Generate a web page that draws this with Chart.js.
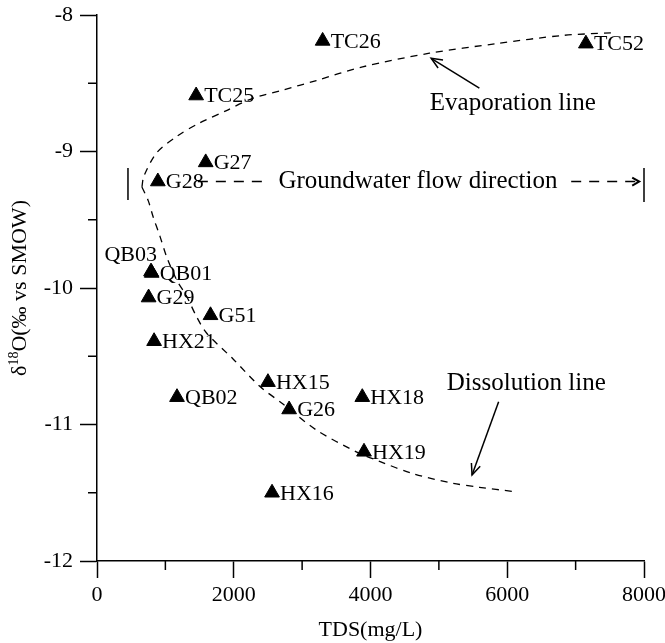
<!DOCTYPE html>
<html>
<head>
<meta charset="utf-8">
<script src="https://cdn.jsdelivr.net/npm/chart.js@4.4.1/dist/chart.umd.min.js"></script>
<style>
    html, body { margin: 0; padding: 0; background: #fff; }
</style>
</head>
<body>
<canvas id="scatterChart" width="665" height="643"></canvas>
<script>
// Samples: TDS (mg/L) and d18O (permil vs SMOW)
var sampleNames = ['TC26', 'TC52', 'TC25', 'G27', 'G28', 'QB03', 'QB01', 'G29', 'G51', 'HX21', 'QB02', 'HX15', 'G26', 'HX18', 'HX19', 'HX16'];
var tdsValues   = [3300, 7150, 1450, 1590, 890, 790, 800, 755, 1660, 835, 1170, 2500, 2810, 3880, 3905, 2560];
var d18OValues  = [-8.19, -8.21, -8.59, -9.08, -9.22, -9.88, -9.89, -10.07, -10.20, -10.39, -10.80, -10.69, -10.89, -10.80, -11.20, -11.50];

// Evaporation line
var evapTDS  = [657, 686, 872, 1164, 1504, 1894, 2278, 2716, 3208, 3884, 4862, 5836, 6804, 7530];
var evapD18O = [-9.26, -9.18, -9.01, -8.89, -8.79, -8.70, -8.61, -8.55, -8.48, -8.38, -8.28, -8.21, -8.15, -8.13];

// Dissolution line
var dissTDS  = [657, 749, 822, 920, 1018, 1164, 1310, 1456, 1602, 1990, 2380, 2720, 3208, 3792, 4132, 4618, 5202, 5592, 6078];
var dissD18O = [-9.26, -9.36, -9.48, -9.62, -9.77, -9.94, -10.06, -10.21, -10.33, -10.52, -10.72, -10.85, -11.04, -11.20, -11.27, -11.36, -11.43, -11.46, -11.49];

// Minor ticks (major ones come from the scales)
var xMinorTicks = [1000, 3000, 5000, 7000];
var yMinorTicks = [-8.5, -9.5, -10.5, -11.5];

var FONT = "'Liberation Serif', 'Times New Roman', serif";

function toPoints(xs, ys) {
    return xs.map(function (x, i) { return { x: x, y: ys[i] }; });
}

function drawArrow(ctx, x1, y1, x2, y2, head) {
    var ang = Math.atan2(y2 - y1, x2 - x1);
    ctx.beginPath();
    ctx.moveTo(x1, y1);
    ctx.lineTo(x2, y2);
    ctx.stroke();
    ctx.beginPath();
    ctx.moveTo(x2 - head * Math.cos(ang - 0.4), y2 - head * Math.sin(ang - 0.4));
    ctx.lineTo(x2, y2);
    ctx.lineTo(x2 - head * Math.cos(ang + 0.4), y2 - head * Math.sin(ang + 0.4));
    ctx.stroke();
}

// minor ticks, y axis title, sample labels and the notes on the plot
var extrasPlugin = {
    id: 'extras',
    afterDraw: function (chart) {
        var ctx = chart.ctx;
        var xs = chart.scales.x, ys = chart.scales.y;
        var area = chart.chartArea;
        function X(v) { return xs.getPixelForValue(v); }
        function Y(v) { return ys.getPixelForValue(v); }

        ctx.save();
        ctx.strokeStyle = '#000';
        ctx.fillStyle = '#000';

        // minor ticks
        ctx.lineWidth = 1.5;
        xMinorTicks.forEach(function (v) {
            ctx.beginPath();
            ctx.moveTo(X(v), area.bottom);
            ctx.lineTo(X(v), area.bottom + 9);
            ctx.stroke();
        });
        yMinorTicks.forEach(function (v) {
            ctx.beginPath();
            ctx.moveTo(area.left - 9, Y(v));
            ctx.lineTo(area.left, Y(v));
            ctx.stroke();
        });

        // y axis title with superscript
        ctx.save();
        ctx.translate(19, (area.top + area.bottom) / 2);
        ctx.rotate(-Math.PI / 2);
        ctx.textBaseline = 'alphabetic';
        ctx.textAlign = 'left';
        var big = '22px ' + FONT, small = '14px ' + FONT;
        ctx.font = big;
        var w1 = ctx.measureText('\u03b4').width;
        var w3 = ctx.measureText('O(\u2030 vs SMOW)').width;
        ctx.font = small;
        var w2 = ctx.measureText('18').width;
        var sx = -(w1 + w2 + w3) / 2;
        ctx.font = big;
        ctx.fillText('\u03b4', sx, 7);
        ctx.font = small;
        ctx.fillText('18', sx + w1, -1);
        ctx.font = big;
        ctx.fillText('O(\u2030 vs SMOW)', sx + w1 + w2, 7);
        ctx.restore();

        // sample labels
        ctx.font = '22px ' + FONT;
        ctx.textBaseline = 'middle';
        var meta = chart.getDatasetMeta(2);
        meta.data.forEach(function (pt, i) {
            var name = sampleNames[i];
            if (name === 'QB03') {
                ctx.textAlign = 'right';
                ctx.fillText(name, pt.x + 6, pt.y - 16);
            } else {
                ctx.textAlign = 'left';
                ctx.fillText(name, pt.x + 8, pt.y + 1);
            }
        });

        // notes
        ctx.font = '25px ' + FONT;
        ctx.textAlign = 'center';
        ctx.fillText('Evaporation line', X(6081), Y(-8.65));
        ctx.fillText('Dissolution line', X(6278), Y(-10.70));
        ctx.fillText('Groundwater flow direction', X(4694), Y(-9.22));

        ctx.lineWidth = 1.5;
        drawArrow(ctx, X(5592), Y(-8.535), X(4887), Y(-8.317), 12);
        drawArrow(ctx, X(5874), Y(-10.833), X(5485), Y(-11.37), 12);

        // groundwater flow direction marker
        ctx.lineWidth = 1.5;
        ctx.beginPath();
        ctx.moveTo(X(453), Y(-9.12));
        ctx.lineTo(X(453), Y(-9.355));
        ctx.moveTo(X(8000), Y(-9.12));
        ctx.lineTo(X(8000), Y(-9.37));
        ctx.stroke();
        ctx.setLineDash([10, 8]);
        ctx.beginPath();
        ctx.moveTo(X(1475), Y(-9.22));
        ctx.lineTo(X(2526), Y(-9.22));
        ctx.moveTo(X(6935), Y(-9.22));
        ctx.lineTo(X(7930), Y(-9.22));
        ctx.stroke();
        ctx.setLineDash([]);
        ctx.lineWidth = 2;
        ctx.beginPath();
        ctx.moveTo(X(7930) - 7, Y(-9.22) - 4);
        ctx.lineTo(X(7930), Y(-9.22));
        ctx.lineTo(X(7930) - 7, Y(-9.22) + 4);
        ctx.stroke();

        ctx.restore();
    }
};

var ctx = document.getElementById('scatterChart');
new Chart(ctx, {
    type: 'scatter',
    data: {
        datasets: [{
            label: 'Evaporation line',
            data: toPoints(evapTDS, evapD18O),
            showLine: true,
            borderColor: '#000',
            borderWidth: 1.3,
            borderDash: [7, 6],
            tension: 0.3,
            pointRadius: 0
        }, {
            label: 'Dissolution line',
            data: toPoints(dissTDS, dissD18O),
            showLine: true,
            borderColor: '#000',
            borderWidth: 1.3,
            borderDash: [7, 6],
            tension: 0.3,
            pointRadius: 0
        }, {
            label: 'Samples',
            data: toPoints(tdsValues, d18OValues),
            pointStyle: 'triangle',
            pointRadius: 8.5,
            borderWidth: 1,
            backgroundColor: '#000',
            borderColor: '#000'
        }]
    },
    options: {
        responsive: false,
        animation: false,
        layout: { padding: { top: 15, right: 21, bottom: 0, left: 0 } },
        plugins: {
            legend: { display: false },
            tooltip: { enabled: false }
        },
        scales: {
            x: {
                type: 'linear',
                min: 0,
                max: 8000,
                afterFit: function (s) {
                    s.height = 82;
                    s.paddingLeft = 0;
                    s.paddingRight = 0;
                },
                border: { display: true, color: '#000', width: 1.5 },
                grid: { drawOnChartArea: false, drawTicks: true, tickLength: 17, tickColor: '#000', tickWidth: 1.5 },
                ticks: {
                    stepSize: 2000,
                    padding: 4,
                    color: '#000',
                    font: { family: FONT, size: 22 },
                    maxRotation: 0,
                    callback: function (v) { return String(v); }
                },
                title: {
                    display: true,
                    text: 'TDS(mg/L)',
                    color: '#000',
                    font: { family: FONT, size: 22 },
                    padding: { top: 0, bottom: 0 }
                }
            },
            y: {
                type: 'linear',
                min: -12,
                max: -8,
                afterFit: function (s) {
                    s.width = 97;
                    s.paddingTop = 0;
                    s.paddingBottom = 0;
                },
                border: { display: true, color: '#000', width: 1.5 },
                grid: { drawOnChartArea: false, drawTicks: true, tickLength: 17, tickColor: '#000', tickWidth: 1.5 },
                ticks: {
                    stepSize: 1,
                    padding: 7,
                    color: '#000',
                    font: { family: FONT, size: 22 },
                    callback: function (v) { return String(v); }
                }
            }
        }
    },
    plugins: [extrasPlugin]
});
</script>
</body>
</html>
